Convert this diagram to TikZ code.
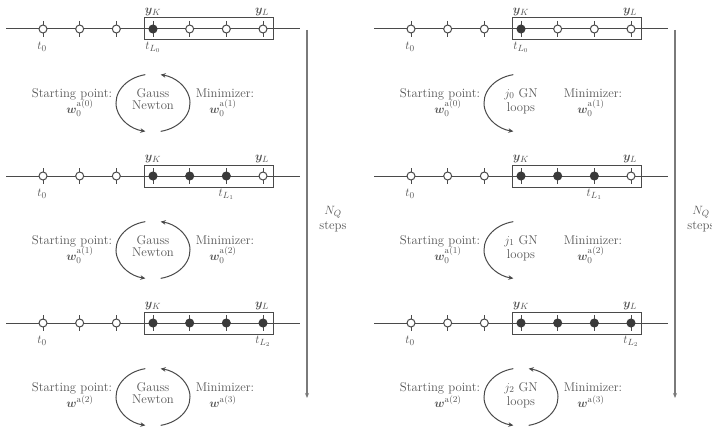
\documentclass[tikz,border=0pt]{standalone}
\usepackage{fontspec}
\usepackage{bm}
\usetikzlibrary{arrows.meta}
\definecolor{lc}{HTML}{4A4A4A}
\definecolor{tc}{HTML}{555555}
\definecolor{fc}{HTML}{3A3A3A}
\definecolor{ac}{HTML}{7A7A7A}
\begin{document}
\begin{tikzpicture}[x=1pt,y=1pt,
  every node/.style={text=tc,font=\fontsize{12.7pt}{15pt}\selectfont,inner sep=0pt},
  tline/.style={draw=lc,line width=1pt},
  winbox/.style={draw=lc,line width=1pt},
  tick/.style={draw=lc,line width=1pt},
  openpt/.style={circle,draw=lc,line width=1pt,fill=white,minimum size=8pt,inner sep=0pt},
  fullpt/.style={circle,draw=fc,line width=1pt,fill=fc,minimum size=8pt,inner sep=0pt},
  loopar/.style={draw=lc,line width=1pt,-{Stealth[length=5pt,width=4.5pt]}},
  steparrow/.style={draw=ac,line width=1.4pt,-{Stealth[length=5pt,width=4pt]}},
  lbl/.style={anchor=base}
]
\useasboundingbox (0,0) rectangle (712,-428);
\clip (0,0) rectangle (712,-428);
\foreach \px/\md in {0/0,368/1}{
\begin{scope}[xshift=\px pt]
  \foreach \s/\Y/\E/\c/\sa/\sb/\sub in {0/29/3/103/0/1/_0, 1/176/5/250/1/2/_0, 2/323/6/397/2/3/}{
    \draw[tline] (6,-\Y) coordinate (L\md\s) -- (300,-\Y) coordinate (R\md\s);
    \draw[winbox] (144,-\Y+11) rectangle (273,-\Y-11);
    \foreach \i in {0,...,6}{
      \pgfmathsetmacro{\xx}{43+36.667*\i}
      \draw[tick] (\xx,-\Y+8) -- (\xx,-\Y-8);
      \ifnum\i<3
        \node[openpt] (m\md\s\i) at (\xx,-\Y) {};
      \else\ifnum\i>\E
        \node[openpt] (m\md\s\i) at (\xx,-\Y) {};
      \else
        \node[fullpt] (m\md\s\i) at (\xx,-\Y) {};
      \fi\fi
    }
    \node (yk\md\s) at (153,-\Y+17) {$\bm{y}_K$};
    \node (yl\md\s) at (262,-\Y+17) {$\bm{y}_L$};
    \node (tz\md\s) at (42,-\Y-18) {$t_0$};
    \pgfmathsetmacro{\tx}{43+36.667*\E}
    \node (tl\md\s) at (\tx,-\Y-18) {$t_{L_{\s}}$};
    % text around loop
    \node[lbl] (sp\md\s) at (72,-\c+6) {Starting point:};
    \node[lbl] (sw\md\s) at (80,-\c-10) {$\bm{w}\sub^{\mathrm{a}(\sa)}$};
    \node[lbl] (mn\md\s) at (225,-\c+6) {Minimizer:};
    \node[lbl] (mw\md\s) at (223,-\c-10) {$\bm{w}\sub^{\mathrm{a}(\sb)}$};
    \ifnum\md=0
      \node[lbl] (ga\md\s) at (153,-\c+6) {Gauss};
      \node[lbl] (ne\md\s) at (153,-\c-6) {Newton};
      \draw[loopar] (153,-\c) ++(102:37 and 29) arc[start angle=102,end angle=258,x radius=37,y radius=29];
      \draw[loopar] (153,-\c) ++(-78:37 and 29) arc[start angle=-78,end angle=78,x radius=37,y radius=29];
    \else
      \node[lbl] (ga\md\s) at (153,-\c+6) {$j_{\s}$ GN};
      \node[lbl] (ne\md\s) at (153,-\c-8) {loops};
      \draw[loopar] (153,-\c) ++(102:37 and 29) arc[start angle=102,end angle=258,x radius=37,y radius=29];
      \ifnum\s=2
        \draw[loopar] (153,-\c) ++(-78:37 and 29) arc[start angle=-78,end angle=78,x radius=37,y radius=29];
      \fi
    \fi
  }
  \coordinate (at\md) at (307,-30);
  \coordinate (ab\md) at (307,-398);
  \draw[steparrow] (at\md) -- (ab\md);
  \node (nq\md) at (333,-212) {$N_Q$};
  \node (st\md) at (333,-227) {steps};
\end{scope}
}
\end{tikzpicture}
\end{document}
